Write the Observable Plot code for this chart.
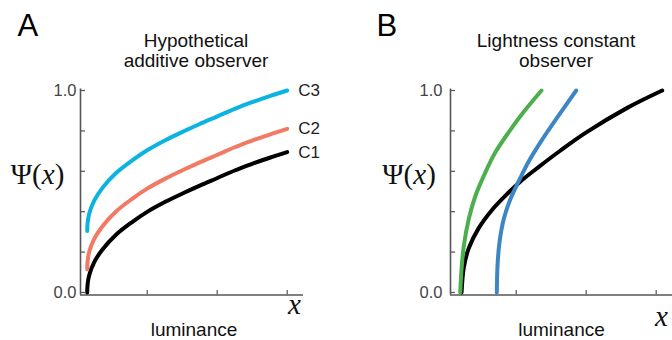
<!DOCTYPE html>
<html><head><meta charset="utf-8">
<script src="https://cdn.jsdelivr.net/npm/d3@7"></script>
<script src="https://cdn.jsdelivr.net/npm/@observablehq/plot@0.6"></script>
<style>
body{margin:0;background:#fff;}
#wrap{display:flex;width:672px;height:340px;overflow:hidden;}
</style></head><body><div id="wrap"></div>
<script>
// ---- Panel A: hypothetical additive observer ----
const xA = [0.143, 0.148, 0.171, 0.243, 0.361, 0.551, 0.79, 0.994, 1.266, 1.504, 1.743, 2.004, 2.25, 2.5, 2.75, 3.0];
const c1 = [0, 0.038, 0.085, 0.15, 0.213, 0.285, 0.35, 0.398, 0.45, 0.49, 0.528, 0.567, 0.604, 0.637, 0.667, 0.695];
const c2 = [0.115, 0.153, 0.2, 0.265, 0.328, 0.4, 0.465, 0.513, 0.565, 0.605, 0.643, 0.682, 0.719, 0.752, 0.782, 0.81];
const c3 = [0.305, 0.343, 0.39, 0.455, 0.518, 0.59, 0.655, 0.703, 0.755, 0.795, 0.833, 0.872, 0.909, 0.942, 0.972, 1.0];
const seriesA = ["C1", "C2", "C3"];
const colorsA = ["#000000", "#f27964", "#0bb3e0"];

// ---- Panel B: lightness constant observer ----
const xGreen = [0.2, 0.219, 0.252, 0.323, 0.419, 0.561, 0.704, 0.894, 1.086, 1.361];
const yGreen = [0, 0.117, 0.233, 0.365, 0.48, 0.596, 0.695, 0.794, 0.885, 1.0];
const xBlue = [0.723, 0.733, 0.761, 0.823, 0.919, 1.037, 1.18, 1.371, 1.609, 1.857];
const yBlue = [0, 0.134, 0.249, 0.365, 0.464, 0.552, 0.65, 0.757, 0.878, 1.0];
const xBlack = [0.219, 0.252, 0.323, 0.466, 0.657, 0.847, 1.061, 1.323, 1.633, 1.99, 2.586, 3.086];
const yBlack = [0, 0.125, 0.22, 0.32, 0.41, 0.48, 0.55, 0.622, 0.703, 0.79, 0.914, 1.0];
const colorsB = {green: "#4cae4c", blue: "#3d85c3", black: "#000000"};

// ---- axes ----
const yTicks = [0, 0.2, 0.4, 0.6, 0.8, 1.0];
const yTickLabels = [0, 1.0];
const xTicks = [1, 2, 3];

const sans = "'Liberation Sans', Arial, Helvetica, sans-serif";
const serif = "'Liberation Serif', 'Times New Roman', serif";

function panel(o) {
  const W = 336, H = 340;
  const mt = 90, mb = 45.5;
  const frameW = W - o.ml - o.mr, frameH = H - mt - mb;
  const axisCol = "#555";
  const marks = [
    Plot.ruleX([o.xDomain[0]], {stroke: axisCol, strokeWidth: 1.6, insetTop: -1.5}),
    Plot.ruleY([o.yMin], {stroke: axisCol, strokeWidth: 1.6}),
    Plot.tickY(yTicks, {y: d => d, stroke: axisCol, strokeWidth: 1.2, insetRight: frameW - 5}),
    Plot.tickX(xTicks, {x: d => d, stroke: axisCol, strokeWidth: 1.2, insetTop: frameH - 4.5}),
    Plot.text(yTickLabels, {y: d => d, text: d => d.toFixed(1), frameAnchor: "left", dx: o.tickDx, textAnchor: "end", fontSize: 16.5, fill: "#444"}),
    ...o.lines,
    ...(o.extra || []),
    Plot.text([o.letter], {frameAnchor: "top-left", dx: o.letterDx, dy: -55, textAnchor: "start", lineAnchor: "bottom", fontSize: 31, fill: "#000"}),
    Plot.text([o.title], {frameAnchor: "top", dx: o.titleDx, dy: -23.3, lineAnchor: "bottom", lineHeight: 1.06, fontSize: 19, fill: "#111"}),
    Plot.text(["Ψ(x)"], {frameAnchor: "left", dx: o.psiDx, dy: -18.5, textAnchor: "middle", fontSize: 29, fontFamily: serif, fill: "#111"}),
    Plot.text(["luminance"], {frameAnchor: "bottom", dx: o.lumDx, dy: 40.5, lineAnchor: "bottom", fontSize: 19, fill: "#111"}),
    Plot.text(["x"], {frameAnchor: "bottom-right", dx: o.xDx, dy: o.xDy, textAnchor: "middle", lineAnchor: "bottom", fontSize: 29, fontFamily: serif, fontStyle: "italic", fill: "#111"})
  ];
  const svg = Plot.plot({
    width: W, height: H,
    marginLeft: o.ml, marginRight: o.mr, marginTop: mt, marginBottom: mb,
    x: {domain: o.xDomain, axis: null},
    y: {domain: [o.yMin, 1], axis: null},
    style: {fontFamily: sans, background: "white", overflow: "visible"},
    marks
  });
  d3.select(svg).selectAll("text").filter(function () { return this.textContent === "Ψ(x)"; })
    .each(function () {
      const t = d3.select(this);
      t.text(null);
      t.append("tspan").text("Ψ(");
      t.append("tspan").attr("font-style", "italic").text("x");
      t.append("tspan").text(")");
    });
  return svg;
}

const lineOpts = {strokeWidth: 4, curve: "catmull-rom", strokeLinecap: "round", strokeLinejoin: "round"};
const dataA = [c1, c2, c3].map((ys, k) => xA.map((x, i) => ({x, y: ys[i], s: seriesA[k]})));
const linesA = dataA.map((d, k) => Plot.line(d, {x: "x", y: "y", stroke: colorsA[k], ...lineOpts}));
const labelsA = Plot.text(dataA.map((d, k) => ({x: d[d.length - 1].x, y: d[d.length - 1].y, s: seriesA[k]})),
  {x: "x", y: "y", text: "s", dx: 11, textAnchor: "start", fontSize: 17, fill: "#222"});

const toPts = (xs, ys) => xs.map((x, i) => ({x, y: ys[i]}));
const linesB = [
  Plot.line(toPts(xBlack, yBlack), {x: "x", y: "y", stroke: colorsB.black, ...lineOpts}),
  Plot.line(toPts(xGreen, yGreen), {x: "x", y: "y", stroke: colorsB.green, ...lineOpts}),
  Plot.line(toPts(xBlue, yBlue), {x: "x", y: "y", stroke: colorsB.blue, ...lineOpts})
];

const yMin = -0.0124;
const wrap = document.getElementById("wrap");
wrap.appendChild(panel({
  ml: 80, mr: 33, xDomain: [0.047, 3.233], yMin, tickDx: -4,
  lines: linesA, extra: [labelsA],
  letter: "A", letterDx: -63, title: "Hypothetical\nadditive observer", titleDx: 4,
  psiDx: -43, lumDx: 2, xDx: -9, xDy: 18.5
}));
wrap.appendChild(panel({
  ml: 114, mr: 0, xDomain: [0.061, 3.233], yMin, tickDx: -8,
  lines: linesB,
  letter: "B", letterDx: -74, title: "Lightness constant\nobserver", titleDx: -5.5,
  psiDx: -41.5, lumDx: 0, xDx: -11, xDy: 30.5
}));
</script></body></html>
